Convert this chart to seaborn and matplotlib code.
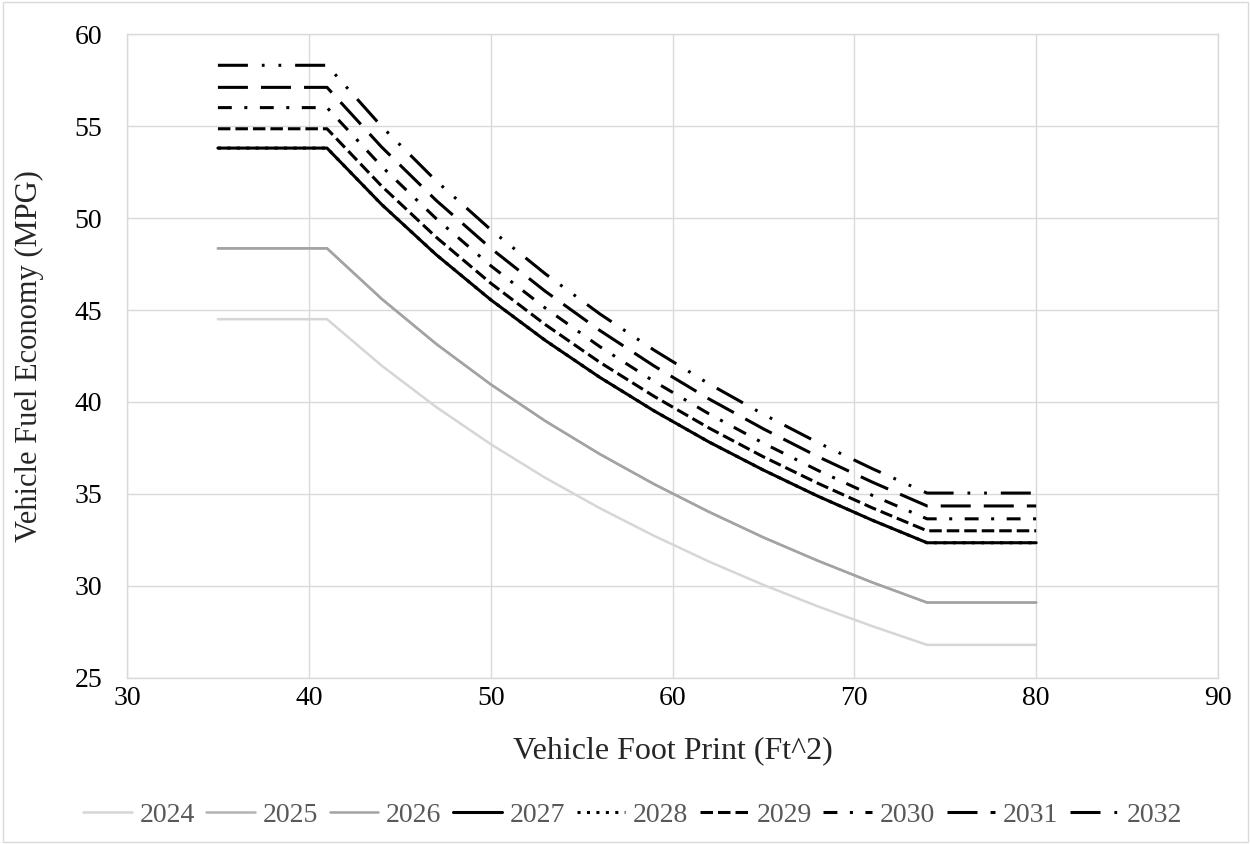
import matplotlib
matplotlib.use("Agg")
import matplotlib.pyplot as plt
from matplotlib.patches import Rectangle
import seaborn as sns
import pandas as pd

# footprint (ft^2) and fuel economy targets (mpg)
footprint = [35, 41, 44, 47, 50, 53, 56, 59, 62, 65, 68, 71, 74, 80]

mpg_2024 = [44.5, 44.5, 41.98, 39.73, 37.71, 35.88, 34.23, 32.72, 31.33, 30.06, 28.89, 27.81, 26.8, 26.8]
mpg_2025 = [48.35, 48.35, 45.61, 43.16, 40.96, 38.97, 37.17, 35.53, 34.03, 32.64, 31.37, 30.19, 29.1, 29.1]
mpg_2026 = [48.35, 48.35, 45.61, 43.16, 40.96, 38.97, 37.17, 35.53, 34.03, 32.64, 31.37, 30.19, 29.1, 29.1]
mpg_2027 = [53.8, 53.8, 50.74, 48.01, 45.56, 43.35, 41.34, 39.51, 37.83, 36.30, 34.88, 33.57, 32.35, 32.35]
mpg_2028 = [53.8, 53.8, 50.74, 48.01, 45.56, 43.35, 41.34, 39.51, 37.83, 36.30, 34.88, 33.57, 32.35, 32.35]
mpg_2029 = [54.85, 54.85, 51.74, 48.96, 46.46, 44.21, 42.16, 40.30, 38.59, 37.02, 35.58, 34.24, 33.0, 33.0]
mpg_2030 = [56.0, 56.0, 52.81, 49.97, 47.41, 45.11, 43.01, 41.11, 39.36, 37.76, 36.28, 34.92, 33.65, 33.65]
mpg_2031 = [57.1, 57.1, 53.86, 50.96, 48.36, 46.02, 43.89, 41.95, 40.17, 38.54, 37.03, 35.64, 34.35, 34.35]
mpg_2032 = [58.3, 58.3, 54.98, 52.02, 49.37, 46.97, 44.79, 42.81, 40.99, 39.33, 37.79, 36.37, 35.05, 35.05]

years = ["2024", "2025", "2026", "2027", "2028", "2029", "2030", "2031", "2032"]
series = [mpg_2024, mpg_2025, mpg_2026, mpg_2027, mpg_2028, mpg_2029, mpg_2030, mpg_2031, mpg_2032]

# line styles (dash patterns in points)
colors = ["#d6d6d6", "#b3b3b3", "#a3a3a3", "black", "black", "black", "black", "black", "black"]
widths = [1.8, 1.8, 1.8, 2.2, 2.2, 2.2, 2.2, 2.2, 2.2]
dashes = [None, None, None, None,
          (2.2, 4.6),
          (9, 3.6),
          (10, 9, 2.2, 9),
          (21.6, 9.4),
          (21.6, 10, 2, 10, 2, 10)]

sns.set_theme(style="white")
plt.rcParams["font.family"] = ["Liberation Serif", "DejaVu Serif"]
plt.rcParams["lines.scale_dashes"] = False

fig = plt.figure(figsize=(12.5, 8.44), dpi=100)
ax = fig.add_axes([0.1016, 0.1967, 0.8728, 0.763])

handles = []
for yr, vals, c, w, d in zip(years, series, colors, widths, dashes):
    df = pd.DataFrame({"x": footprint, "y": vals})
    sns.lineplot(data=df, x="x", y="y", color=c, linewidth=w, ax=ax, sort=False, legend=False)
    ln = ax.get_lines()[-1]
    if d is not None:
        ln.set_dashes(d)
    handles.append(ln)

if ax.get_legend() is not None:
    ax.get_legend().remove()

ax.set_xlim(30, 90)
ax.set_ylim(25, 60)
ax.set_xticks(range(30, 91, 10))
ax.set_yticks(range(25, 61, 5))
ax.grid(True, color="#d9d9d9", linewidth=1)
for s in ax.spines.values():
    s.set_color("#d9d9d9")
    s.set_linewidth(1)
ax.tick_params(axis="both", length=0, labelsize=20, colors="black")
ax.tick_params(axis="x", pad=6)
ax.tick_params(axis="y", pad=18)
ax.set_xlabel("Vehicle Foot Print (Ft^2)", fontsize=23, labelpad=18)
ax.set_ylabel("Vehicle Fuel Economy (MPG)", fontsize=22, labelpad=22)

fig.legend(handles=handles, labels=years, loc="center", bbox_to_anchor=(0.506, 0.034),
           ncol=9, frameon=False, fontsize=20, handlelength=1.75, handletextpad=0.28,
           columnspacing=0.42, labelcolor="#595959")

fig.patches.append(Rectangle((0.002, 0.002), 0.996, 0.996, transform=fig.transFigure,
                             fill=False, edgecolor="#d9d9d9", linewidth=1))

fig.savefig("out.png", dpi=100)
